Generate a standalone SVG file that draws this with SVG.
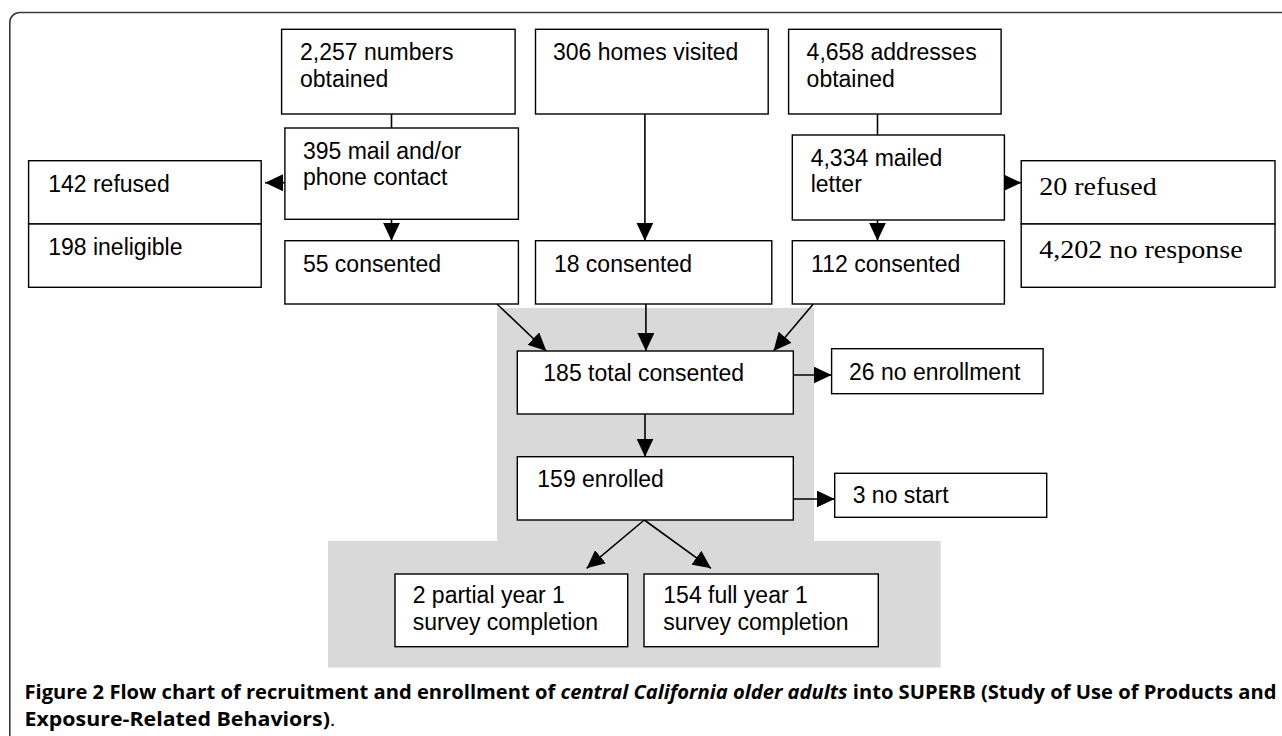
<svg xmlns="http://www.w3.org/2000/svg" width="1282" height="736" viewBox="0 0 1282 736">
<style>
.bx{fill:#fff;stroke:#000;stroke-width:1.4}
.t{font-family:"Liberation Sans",Arial,sans-serif;font-size:23px;fill:#000}
.ts{font-family:"Liberation Serif","Times New Roman",serif;font-size:25px;fill:#000}
.c{stroke:#000;stroke-width:1.6;fill:none}
.cap{font-family:"Open Sans","Noto Sans",sans-serif;font-size:19px;fill:#000}
</style>
<defs>
<marker id="ah" markerUnits="userSpaceOnUse" markerWidth="18" markerHeight="17" refX="18" refY="8.5" orient="auto">
<path d="M0,0 L18,8.5 L0,17 z" fill="#000"/>
</marker>
</defs>
<rect x="0" y="0" width="1282" height="736" fill="#fff"/>
<rect x="9.8" y="12.5" width="1300" height="760" rx="10" ry="10" fill="none" stroke="#3a3a3a" stroke-width="1.6"/>
<path d="M497,308 H814 V541 H940.7 V667.5 H328 V541 H497 Z" fill="#d9d9d9"/>

<g id="connectors">
<line class="c" x1="391.5" y1="114" x2="391.5" y2="128"/>
<line class="c" x1="391.5" y1="219.3" x2="391.5" y2="240.7" marker-end="url(#ah)"/>
<line class="c" x1="285" y1="182.7" x2="265" y2="182.7" marker-end="url(#ah)"/>
<line class="c" x1="644.9" y1="114" x2="644.9" y2="240.7" marker-end="url(#ah)"/>
<line class="c" x1="877.5" y1="114" x2="877.5" y2="135"/>
<line class="c" x1="877.5" y1="220" x2="877.5" y2="240.7" marker-end="url(#ah)"/>
<line class="c" x1="1004.4" y1="182.7" x2="1021.2" y2="182.7" marker-end="url(#ah)"/>
<line class="c" x1="497" y1="304" x2="546.4" y2="351" marker-end="url(#ah)"/>
<line class="c" x1="645.9" y1="304" x2="645.9" y2="351" marker-end="url(#ah)"/>
<line class="c" x1="813.3" y1="304" x2="773.5" y2="351" marker-end="url(#ah)"/>
<line class="c" x1="789" y1="375" x2="831.6" y2="375" marker-end="url(#ah)"/>
<line class="c" x1="645" y1="414" x2="645" y2="456.7" marker-end="url(#ah)"/>
<line class="c" x1="793" y1="499" x2="834.7" y2="499" marker-end="url(#ah)"/>
<line class="c" x1="644.3" y1="520" x2="586.7" y2="568.3" marker-end="url(#ah)"/>
<line class="c" x1="644.3" y1="520" x2="711" y2="568.3" marker-end="url(#ah)"/>
</g>

<g id="n-numbers">
<rect class="bx" x="281.6" y="29.3" width="233.5" height="84.7"/>
<text class="t" x="300" y="60">2,257 numbers</text>
<text class="t" x="300" y="86.7">obtained</text>
</g>
<g id="n-homes">
<rect class="bx" x="535.5" y="29.3" width="232.7" height="84.7"/>
<text class="t" x="553" y="60">306 homes visited</text>
</g>
<g id="n-addresses">
<rect class="bx" x="788.6" y="29.3" width="212.5" height="84.7"/>
<text class="t" x="806.6" y="60">4,658 addresses</text>
<text class="t" x="806.6" y="86.7">obtained</text>
</g>
<g id="n-contact">
<rect class="bx" x="284.9" y="128" width="233.5" height="91.3"/>
<text class="t" x="302.9" y="159.3">395 mail and/or</text>
<text class="t" x="302.9" y="185.3">phone contact</text>
</g>
<g id="n-refused-left">
<rect class="bx" x="28.6" y="160.7" width="232.6" height="63.3"/>
<rect class="bx" x="28.6" y="224" width="232.6" height="63.3"/>
<text class="t" x="48.2" y="191.7">142 refused</text>
<text class="t" x="48.2" y="255">198 ineligible</text>
</g>
<g id="n-mailed">
<rect class="bx" x="792.3" y="135" width="212.1" height="85"/>
<text class="t" x="810.7" y="165.7">4,334 mailed</text>
<text class="t" x="810.7" y="192.3">letter</text>
</g>
<g id="n-refused-right">
<rect class="bx" x="1021.2" y="160.7" width="253.8" height="63.3"/>
<rect class="bx" x="1021.2" y="224" width="253.8" height="63.3"/>
<text class="ts" x="1039.2" y="195" textLength="117.5" lengthAdjust="spacingAndGlyphs">20 refused</text>
<text class="ts" x="1039.2" y="258.3" textLength="203.5" lengthAdjust="spacingAndGlyphs">4,202 no response</text>
</g>
<g id="n-c55">
<rect class="bx" x="284.9" y="240.7" width="233.5" height="63.3"/>
<text class="t" x="302.9" y="271.7">55 consented</text>
</g>
<g id="n-c18">
<rect class="bx" x="535.5" y="240.7" width="236.3" height="63.3"/>
<text class="t" x="553.9" y="271.7">18 consented</text>
</g>
<g id="n-c112">
<rect class="bx" x="792.3" y="240.7" width="212.1" height="63.3"/>
<text class="t" x="811.1" y="271.7">112 consented</text>
</g>
<g id="n-total">
<rect class="bx" x="517.3" y="351" width="276" height="63"/>
<text class="t" x="543.3" y="380.7">185 total consented</text>
</g>
<g id="n-noenroll">
<rect class="bx" x="831.6" y="348.7" width="211.5" height="45"/>
<text class="t" x="849" y="380">26 no enrollment</text>
</g>
<g id="n-enrolled">
<rect class="bx" x="517.3" y="456.7" width="276" height="63.3"/>
<text class="t" x="537.3" y="486.7">159 enrolled</text>
</g>
<g id="n-nostart">
<rect class="bx" x="834.7" y="473.3" width="212" height="44"/>
<text class="t" x="852.7" y="503.3">3 no start</text>
</g>
<g id="n-partial">
<rect class="bx" x="395" y="574" width="232.7" height="72.7"/>
<text class="t" x="412.7" y="603.3">2 partial year 1</text>
<text class="t" x="412.7" y="630">survey completion</text>
</g>
<g id="n-full">
<rect class="bx" x="644" y="574" width="234.3" height="72.7"/>
<text class="t" x="663.3" y="603.3">154 full year 1</text>
<text class="t" x="663.3" y="630">survey completion</text>
</g>

<text class="cap" x="24.5" y="699" textLength="1252" lengthAdjust="spacingAndGlyphs"><tspan font-weight="bold">Figure 2 Flow chart of recruitment and enrollment of </tspan><tspan font-weight="bold" font-style="italic">central California older adults</tspan><tspan font-weight="bold"> into SUPERB (Study of Use of Products and</tspan></text>
<text class="cap" x="24.5" y="726" textLength="311" lengthAdjust="spacingAndGlyphs"><tspan font-weight="bold">Exposure-Related Behaviors)</tspan><tspan>.</tspan></text>
</svg>
